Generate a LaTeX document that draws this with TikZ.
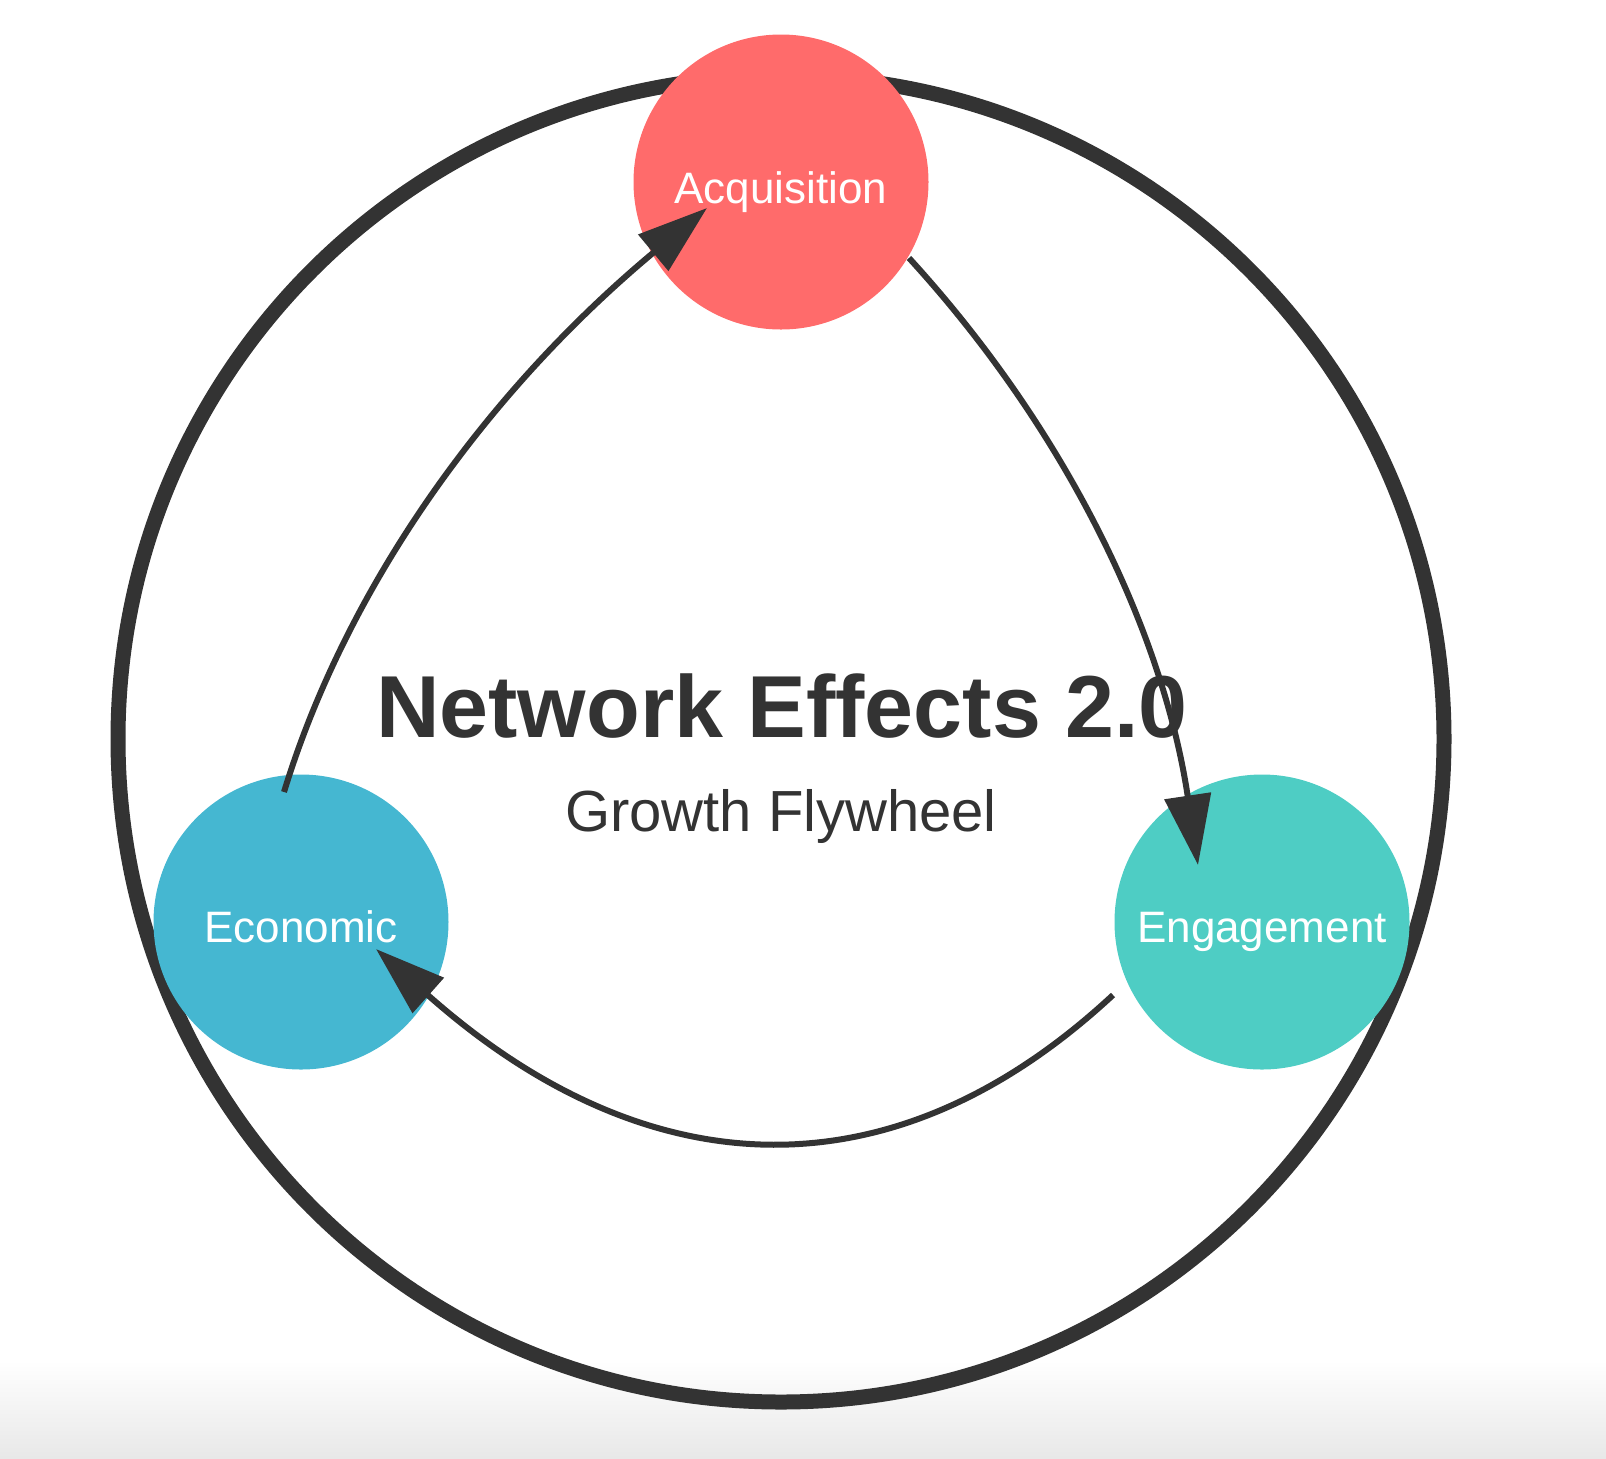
\documentclass[tikz,border=0pt]{standalone}
\usepackage{fontspec}
\setmainfont{Liberation Sans}
\usepackage{xcolor}
\usepackage{tikz}
\usetikzlibrary{calc, arrows.meta}
\definecolor{acqred}{HTML}{FF6B6B}
\definecolor{engteal}{HTML}{4ECDC4}
\definecolor{ecoblue}{HTML}{45B7D1}
\definecolor{rimgray}{HTML}{333333}
\definecolor{shadegray}{HTML}{E8E8E8}
\newcommand{\rimcolor}{rimgray}

\begin{document}
\begin{tikzpicture}[x=0.5pt, y=-0.5pt]
	\tikzstyle{stagec}=[circle, minimum size=147.5pt, inner sep=0pt]
	\tikzstyle{stagel}=[anchor=base, text=white, font=\fontsize{22}{26}\selectfont]
	\tikzstyle{flow}=[line width=3pt, draw=\rimcolor, -{Triangle[length=35pt, width=23pt]}]
	\useasboundingbox (0,0) rectangle (1606,1458);
	\shade[top color=white, bottom color=shadegray] (0,1360) rectangle (1606,1458);
	
	\coordinate (hub) at (781,739);
	\draw[line width=7.5pt, draw=\rimcolor] (hub) circle [radius=663];
	
	\node (s01) at (781,182) [stagec, fill=acqred]{};
	\node (s02) at (1262,922) [stagec, fill=engteal]{};
	\node (s03) at (301,922) [stagec, fill=ecoblue]{};
	\node (l01) at ($(s01)+(0,21)$) [stagel]{Acquisition};
	\node (l02) at ($(s02)+(0,20)$) [stagel]{Engagement};
	\node (l03) at ($(s03)+(0,20)$) [stagel]{Economic};
	
	\node (ttl) at (782,737.5) [anchor=base, text=\rimcolor, font=\bfseries\fontsize{44}{50}\selectfont]{Network Effects 2.0};
	\node (sub) at (781,831.5) [anchor=base, text=\rimcolor, font=\fontsize{29}{34}\selectfont]{Growth Flywheel};
	
	\draw[flow] ($(s03)+(-17,-130)$) .. controls ($(s03)+(46.3,-337.3)$) and ($(s01)+(-292.7,208)$) .. ($(s01)+(-74,26)$);
	\draw[flow] ($(s01)+(128,76)$) .. controls ($(s01)+(286,248.7)$) and ($(s02)+(-98.7,-289)$) .. ($(s02)+(-64,-57)$);
	\draw[flow] ($(s02)+(-149,73)$) .. controls ($(s02)+(-372,280.3)$) and ($(s03)+(343,265)$) .. ($(s03)+(75,27)$);
	
\end{tikzpicture}
\end{document}
